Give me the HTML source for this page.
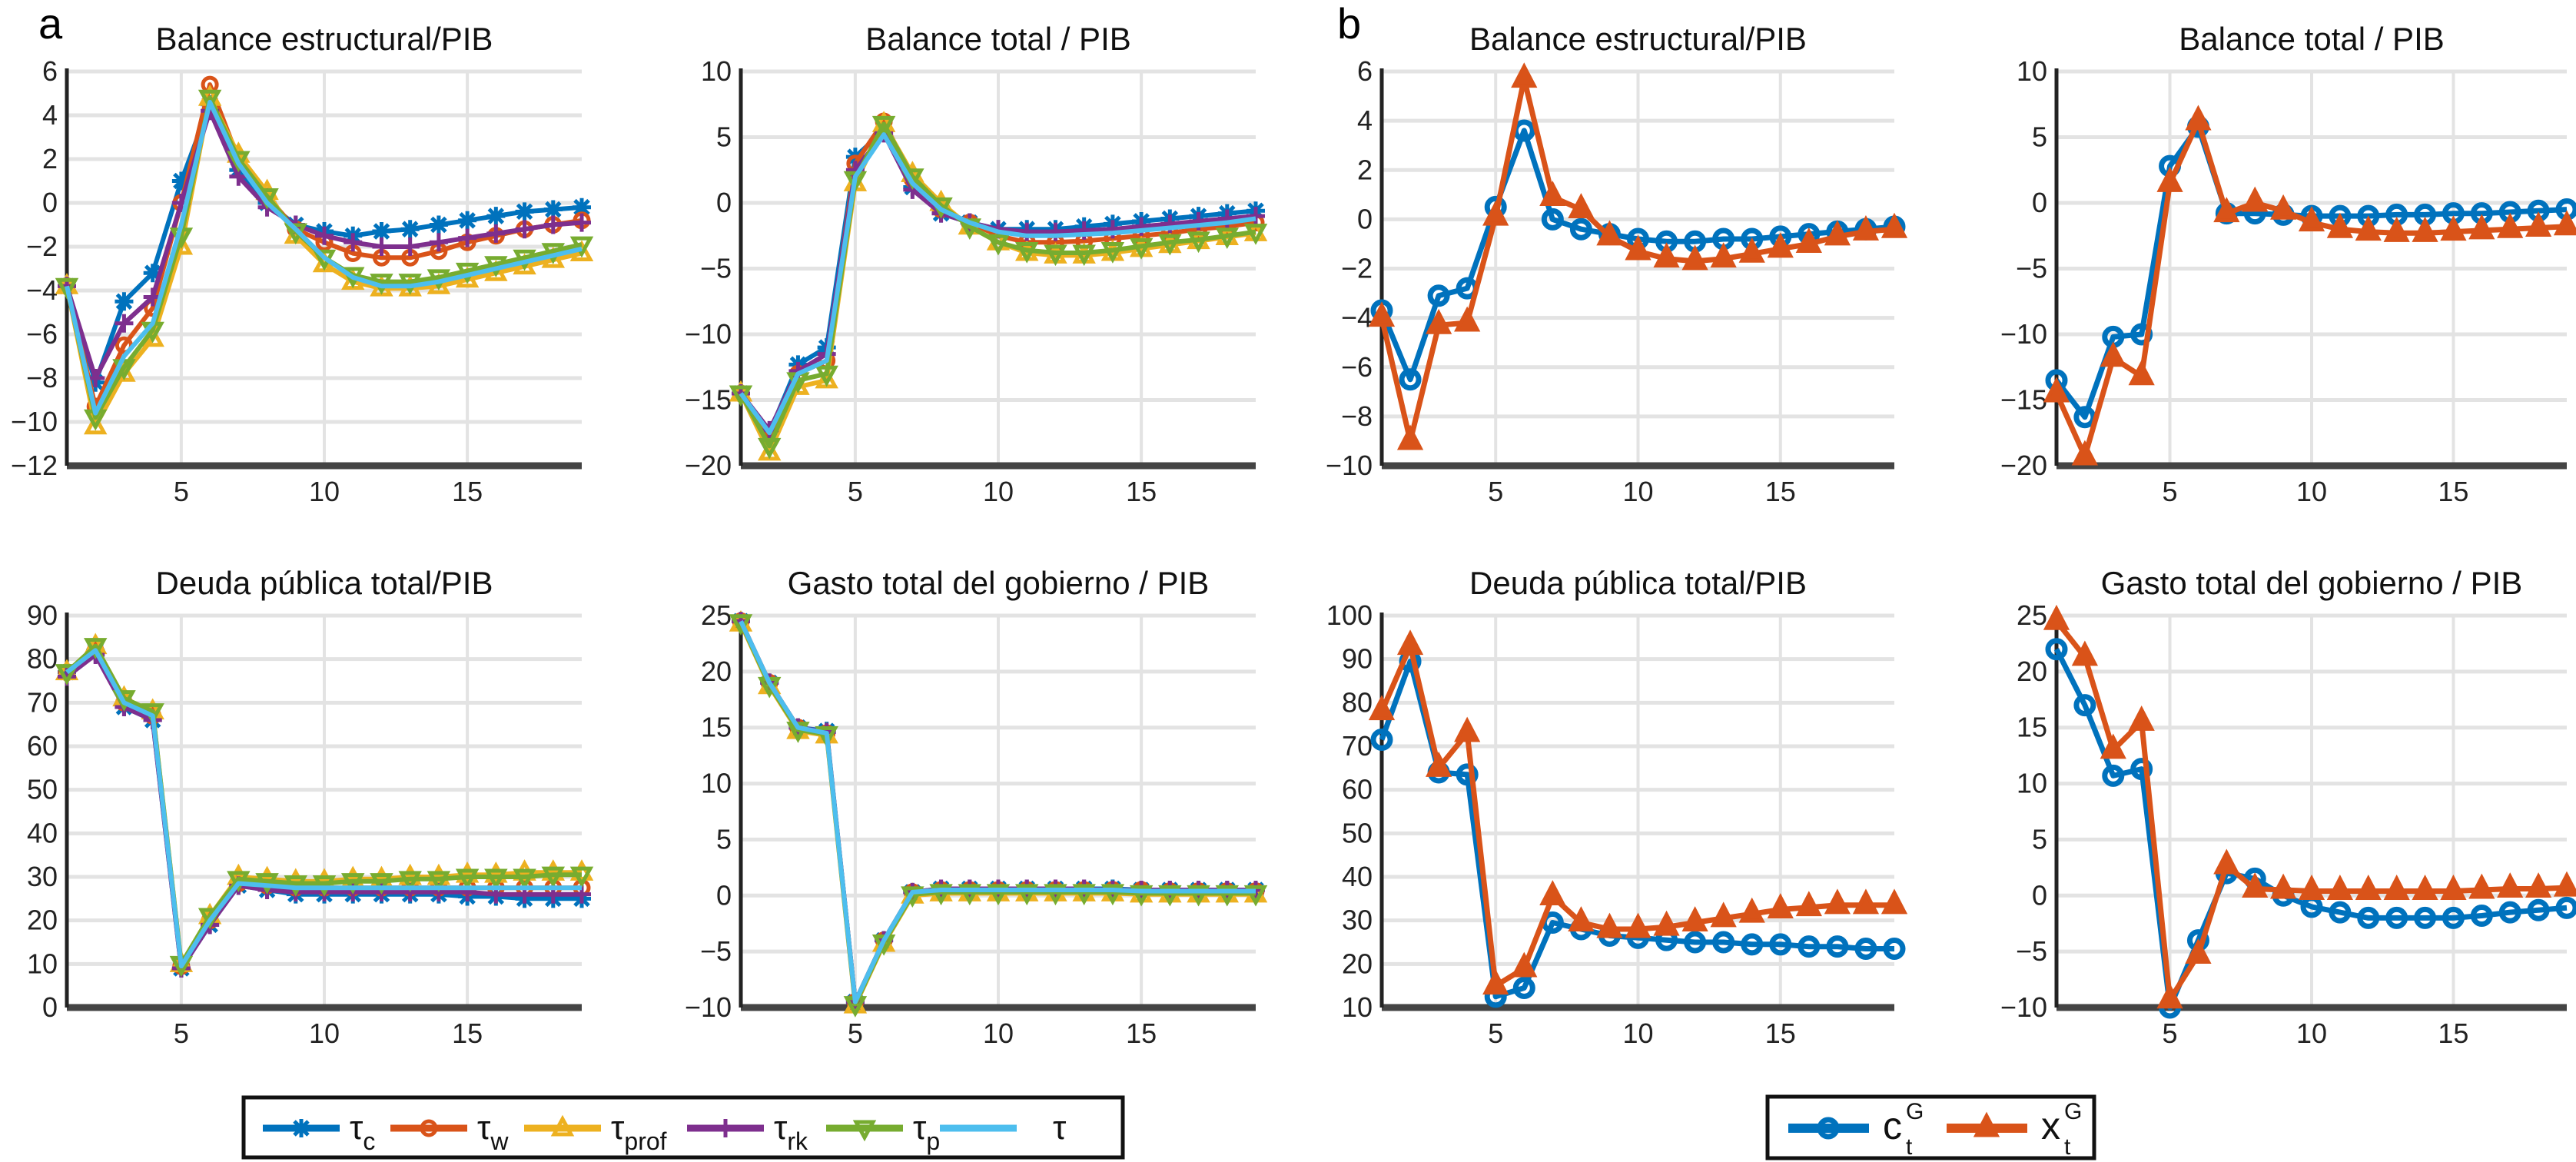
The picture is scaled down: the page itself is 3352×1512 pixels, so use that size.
<!DOCTYPE html>
<html><head><meta charset="utf-8"><style>
html,body{margin:0;padding:0;background:#fff;}
svg{display:block;font-family:"Liberation Sans",sans-serif;}
</style></head><body>
<svg id="chart" width="3352" height="1512" viewBox="0 0 3352 1512" xmlns="http://www.w3.org/2000/svg">
<text x="50" y="50" font-size="56">a</text>
<text x="1740" y="50" font-size="56">b</text>
<g id="plots"></g>
<g>
<rect x="317" y="1428" width="1144" height="78" fill="#fff" stroke="#111" stroke-width="5"/>
<g id="legA"></g>
</g>
<g>
<rect x="2300" y="1427" width="425" height="80" fill="#fff" stroke="#111" stroke-width="5"/>
<g id="legB"></g>
</g>
</svg>
<script>
const xs = [1,2,3,4,5,6,7,8,9,10,11,12,13,14,15,16,17,18,19];
const xTicks = [5,10,15];
const seriesNamesA = ["tc","tw","tprof","trk","tp","t"];
const seriesNamesB = ["cG","xG"];
// Panel a: Balance estructural
const aBE_tc = [-3.8,-8.2,-4.5,-3.2,1,4.5,1.5,0,-1,-1.3,-1.5,-1.3,-1.2,-1,-0.8,-0.6,-0.4,-0.3,-0.2];
const aBE_tw = [-3.8,-9.3,-6.5,-4.8,0,5.4,2,0.3,-1.2,-1.8,-2.3,-2.5,-2.5,-2.2,-1.8,-1.5,-1.2,-1,-0.8];
const aBE_tprof = [-3.8,-10.2,-7.8,-6.2,-2,4.8,2.2,0.5,-1.5,-2.8,-3.6,-3.9,-3.9,-3.8,-3.5,-3.2,-2.9,-2.6,-2.3];
const aBE_trk = [-3.8,-8,-5.5,-4.3,0,4.2,1.2,-0.2,-1,-1.5,-1.8,-2,-2,-1.8,-1.6,-1.4,-1.2,-1,-0.9];
const aBE_tp = [-3.8,-9.8,-7.5,-5.8,-1.5,4.8,2,0.3,-1.3,-2.5,-3.3,-3.6,-3.6,-3.4,-3.1,-2.8,-2.5,-2.2,-1.9];
const aBE_t = [-3.8,-9.6,-7,-5.5,-1,4.6,1.8,0,-1.2,-2.5,-3.4,-3.8,-3.8,-3.6,-3.3,-3,-2.7,-2.4,-2.1];
const aBE_ticks = [-12,-10,-8,-6,-4,-2,0,2,4,6];
// Panel a: Balance total
const aBT_tc = [-14.5,-17.5,-12.3,-11,3.5,5.5,1.2,-0.8,-1.5,-2,-2,-2,-1.8,-1.6,-1.4,-1.2,-1,-0.8,-0.6];
const aBT_tw = [-14.5,-18,-13,-12,3,6.2,1.8,-0.5,-1.5,-2.5,-3,-3,-2.9,-2.7,-2.5,-2.3,-2,-1.8,-1.5];
const aBT_tprof = [-14.5,-19,-14,-13.5,1.5,6,2.2,0,-1.8,-3,-3.8,-4,-4,-3.8,-3.5,-3.2,-2.9,-2.6,-2.3];
const aBT_trk = [-14.5,-17.3,-12.8,-11.5,2.5,5.3,1,-0.8,-1.5,-2,-2.2,-2.2,-2.1,-2,-1.8,-1.6,-1.4,-1.2,-1];
const aBT_tp = [-14.5,-18.5,-13.5,-13,1.8,6,2,-0.2,-1.8,-3,-3.6,-3.8,-3.8,-3.6,-3.3,-3,-2.8,-2.5,-2.2];
const aBT_t = [-14.5,-17.5,-13,-12,2,5.2,1.5,-0.5,-1.5,-2.2,-2.5,-2.5,-2.4,-2.3,-2.1,-1.9,-1.7,-1.5,-1.2];
const aBT_ticks = [-20,-15,-10,-5,0,5,10];
// Panel a: Deuda
const aD_tc = [77,82,69,66,9,19,28,27,26,26,26,26,26,26,25.5,25.5,25,25,25];
const aD_tw = [77,82,70,67,9.5,20,28.5,28,27.5,27.5,27.5,27.5,27.5,27.5,27.5,27.5,27.5,27.5,27.5];
const aD_tprof = [77,83,71,68,10,21,30,29.5,29,29,29.5,29.5,30,30,30.5,30.5,31,31,31];
const aD_trk = [76,81,69,66,9,19,28,27,26.5,26.5,26.5,26.5,26.5,26.5,26.5,26,26,26,26];
const aD_tp = [77,83,71,68,10,21,29.5,29,28.5,28.5,29,29,29.5,29.5,30,30,30,30.5,30.5];
const aD_t = [77,82,70,67,9.5,20,28.5,28,27.5,27.5,27.5,27.5,27.5,27.5,27.5,27.5,27.5,27.5,27.5];
const aD_ticks = [0,10,20,30,40,50,60,70,80,90];
// Panel a: Gasto
const aG_tc = [24.5,19,15,14.7,-9.5,-4,0.3,0.6,0.6,0.6,0.6,0.6,0.6,0.6,0.5,0.5,0.5,0.5,0.5];
const aG_tw = [24.5,19,15,14.5,-9.5,-4,0.3,0.5,0.5,0.5,0.5,0.5,0.5,0.5,0.5,0.4,0.4,0.4,0.4];
const aG_tprof = [24.3,18.7,14.7,14.3,-9.8,-4.3,0,0.2,0.2,0.2,0.2,0.2,0.2,0.2,0.1,0.1,0.1,0.1,0.1];
const aG_trk = [24.5,19,15,14.6,-9.5,-4,0.3,0.6,0.6,0.6,0.6,0.6,0.6,0.5,0.5,0.5,0.5,0.5,0.5];
const aG_tp = [24.4,18.8,14.8,14.4,-9.7,-4.2,0.1,0.3,0.3,0.3,0.3,0.3,0.3,0.3,0.2,0.2,0.2,0.2,0.2];
const aG_t = [24.5,19,15,14.5,-9.5,-4,0.3,0.5,0.5,0.5,0.5,0.5,0.5,0.5,0.4,0.4,0.4,0.4,0.4];
const aG_ticks = [-10,-5,0,5,10,15,20,25];
// Panel b
const bBE_c = [-3.7,-6.5,-3.1,-2.8,0.5,3.6,0,-0.4,-0.6,-0.8,-0.9,-0.9,-0.8,-0.8,-0.7,-0.6,-0.5,-0.4,-0.3];
const bBE_x = [-4,-9,-4.3,-4.2,0.1,5.7,0.9,0.4,-0.7,-1.3,-1.6,-1.7,-1.6,-1.4,-1.2,-1,-0.7,-0.5,-0.4];
const bBE_ticks = [-10,-8,-6,-4,-2,0,2,4,6];
const bBT_c = [-13.5,-16.3,-10.2,-10,2.8,5.8,-0.8,-0.8,-0.9,-1,-1,-1,-0.9,-0.9,-0.8,-0.8,-0.7,-0.6,-0.5];
const bBT_x = [-14.5,-19.3,-11.8,-13.2,1.5,6.2,-0.8,0,-0.6,-1.5,-2,-2.2,-2.3,-2.3,-2.2,-2.1,-2,-1.9,-1.8];
const bBT_ticks = [-20,-15,-10,-5,0,5,10];
const bD_c = [71.5,89.5,64,63.5,12.5,14.5,29.5,28,26.5,26,25.5,25,25,24.5,24.5,24,24,23.5,23.5];
const bD_x = [78,93,65,73,15,19,35.5,29.5,28,28,28.5,29.5,30.5,31.5,32.5,33,33.5,33.5,33.5];
const bD_ticks = [10,20,30,40,50,60,70,80,90,100];
const bG_c = [22,17,10.7,11.3,-10,-4,2,1.5,0,-1,-1.5,-2,-2,-2,-2,-1.8,-1.5,-1.3,-1.1];
const bG_x = [24.5,21.3,13,15.5,-9.3,-5.3,2.7,0.6,0.5,0.4,0.4,0.4,0.4,0.4,0.4,0.5,0.6,0.6,0.7];
const bG_ticks = [-10,-5,0,5,10,15,20,25];

const NS="http://www.w3.org/2000/svg";
function mk(tag, attrs, parent){const e=document.createElementNS(NS,tag);for(const k in attrs)e.setAttribute(k,attrs[k]);if(parent)parent.appendChild(e);return e;}
const COL={tc:"#0072BD",tw:"#D95319",tprof:"#EDB120",trk:"#7E2F8E",tp:"#77AC30",t:"#4DBEEE",cG:"#0072BD",xG:"#D95319"};
const MK={tc:"star",tw:"circle",tprof:"tri",trk:"plus",tp:"tridown",t:null,cG:"circleB",xG:"triB"};

function marker(g,type,cx,cy,col){
  let e;
  if(type==="circle"){e=mk("circle",{cx,cy,r:9,fill:"none",stroke:col,"stroke-width":5},g);}
  else if(type==="circleB"){e=mk("circle",{cx,cy,r:11,fill:"none",stroke:col,"stroke-width":7},g);}
  else if(type==="tri"){e=mk("path",{d:`M${cx},${cy-12}L${cx+11},${cy+8}L${cx-11},${cy+8}Z`,fill:"none",stroke:col,"stroke-width":5},g);}
  else if(type==="triB"){e=mk("path",{d:`M${cx},${cy-16}L${cx+13},${cy+9}L${cx-13},${cy+9}Z`,fill:col,stroke:col,"stroke-width":5},g);}
  else if(type==="tridown"){e=mk("path",{d:`M${cx},${cy+12}L${cx+11},${cy-8}L${cx-11},${cy-8}Z`,fill:"none",stroke:col,"stroke-width":5},g);}
  else if(type==="plus"){e=mk("path",{d:`M${cx-12},${cy}H${cx+12}M${cx},${cy-12}V${cy+12}`,stroke:col,"stroke-width":5},g);}
  else if(type==="star"){e=mk("path",{d:`M${cx-12},${cy}H${cx+12}M${cx},${cy-12}V${cy+12}M${cx-9},${cy-9}L${cx+9},${cy+9}M${cx-9},${cy+9}L${cx+9},${cy-9}`,stroke:col,"stroke-width":5},g);}
  if(e){
  }
}

function drawPlot(id,title,L,R,T,B,ticks,series,names,lw){
  const root=document.getElementById("plots");
  const g=mk("g",{},root);
  
  
  const y0=ticks[0],y1=ticks[ticks.length-1];
  const X=v=>L+(v-1)/(19-1)*(R-L);
  const Y=v=>B-(v-y0)/(y1-y0)*(B-T);
  // grid
  ticks.forEach(t=>{const l=mk("line",{x1:L,x2:R,y1:Y(t),y2:Y(t),stroke:"#e3e3e3","stroke-width":5},g);
    
    });
  xTicks.forEach(t=>{const l=mk("line",{x1:X(t),x2:X(t),y1:T,y2:B,stroke:"#e3e3e3","stroke-width":4},g);
    
    });
  // axes
  const ax=mk("line",{x1:L,x2:R,y1:B,y2:B,stroke:"#444","stroke-width":9},g);
  
  
  const ay=mk("line",{x1:L,x2:L,y1:T-4,y2:B,stroke:"#222","stroke-width":5},g);
  
  
  ticks.forEach(t=>{const tx=mk("text",{x:L-12,y:Y(t)+12,"font-size":36,"text-anchor":"end",fill:"#222"},g);tx.textContent=(t<0?"\u2212"+(-t):t);
    
    });
  xTicks.forEach(t=>{const tx=mk("text",{x:X(t),y:B+46,"font-size":36,"text-anchor":"middle",fill:"#222"},g);tx.textContent=t;
    
    });
  const tt=mk("text",{x:(L+R)/2,y:T-28,"font-size":42,"text-anchor":"middle",fill:"#111"},g);tt.textContent=title;
  
  
  series.forEach((vals,i)=>{
    const nm=names[i],col=COL[nm];
    const sg=mk("g",{},g);
    
    
    const d=vals.map((v,j)=>(j?"L":"M")+X(xs[j]).toFixed(1)+","+Y(v).toFixed(1)).join("");
    const p=mk("path",{d,fill:"none",stroke:col,"stroke-width":lw,"stroke-linejoin":"round"},sg);
    
    
    if(MK[nm]) vals.forEach((v,j)=>marker(sg,MK[nm],X(xs[j]),Y(v),col));
  });
}
const TOP=[93,606],BOT=[801,1311];
drawPlot("plot-a-balance-estructural","Balance estructural/PIB",87,757,TOP[0],TOP[1],aBE_ticks,[aBE_tc,aBE_tw,aBE_tprof,aBE_trk,aBE_tp,aBE_t],seriesNamesA,6);
drawPlot("plot-a-balance-total","Balance total / PIB",964,1634,TOP[0],TOP[1],aBT_ticks,[aBT_tc,aBT_tw,aBT_tprof,aBT_trk,aBT_tp,aBT_t],seriesNamesA,6);
drawPlot("plot-a-deuda","Deuda pública total/PIB",87,757,BOT[0],BOT[1],aD_ticks,[aD_tc,aD_tw,aD_tprof,aD_trk,aD_tp,aD_t],seriesNamesA,6);
drawPlot("plot-a-gasto","Gasto total del gobierno / PIB",964,1634,BOT[0],BOT[1],aG_ticks,[aG_tc,aG_tw,aG_tprof,aG_trk,aG_tp,aG_t],seriesNamesA,6);
drawPlot("plot-b-balance-estructural","Balance estructural/PIB",1798,2465,TOP[0],TOP[1],bBE_ticks,[bBE_c,bBE_x],seriesNamesB,7);
drawPlot("plot-b-balance-total","Balance total / PIB",2676,3340,TOP[0],TOP[1],bBT_ticks,[bBT_c,bBT_x],seriesNamesB,7);
drawPlot("plot-b-deuda","Deuda pública total/PIB",1798,2465,BOT[0],BOT[1],bD_ticks,[bD_c,bD_x],seriesNamesB,7);
drawPlot("plot-b-gasto","Gasto total del gobierno / PIB",2676,3340,BOT[0],BOT[1],bG_ticks,[bG_c,bG_x],seriesNamesB,7);

// legend a
const legA=document.getElementById("legA");
const legAsub=["c","w","prof","rk","p",""];
const legAx=[342,508,682,894,1075,1223];
seriesNamesA.forEach((nm,i)=>{
  const g=mk("g",{},legA);
  
  
  const x=legAx[i],y=1468;
  mk("line",{x1:x,x2:x+100,y1:y,y2:y,stroke:COL[nm],"stroke-width":9},g);
  if(MK[nm]) marker(g,MK[nm],x+50,y,COL[nm]);
  const t=mk("text",{x:x+(i===5?147:113),y:y+14,"font-size":44,fill:"#111"},g);
  t.textContent="τ";
  if(legAsub[i]){const s=mk("tspan",{"font-size":32,dy:14},t);s.textContent=legAsub[i];}
});
// legend b
const legB=document.getElementById("legB");
[["cG","c",2327],["xG","x",2533]].forEach(([nm,ch,x])=>{
  const g=mk("g",{},legB);
  
  
  const y=1468;
  mk("line",{x1:x,x2:x+105,y1:y,y2:y,stroke:COL[nm],"stroke-width":12},g);
  marker(g,MK[nm],x+52,y,COL[nm]);
  const t=mk("text",{x:x+123,y:y+14,"font-size":50,fill:"#111"},g);t.textContent=ch;
  const s1=mk("text",{x:x+153,y:y-12,"font-size":30,fill:"#111"},g);s1.textContent="G";
  const s2=mk("text",{x:x+153,y:y+34,"font-size":30,fill:"#111"},g);s2.textContent="t";
});
</script>
</body></html>
